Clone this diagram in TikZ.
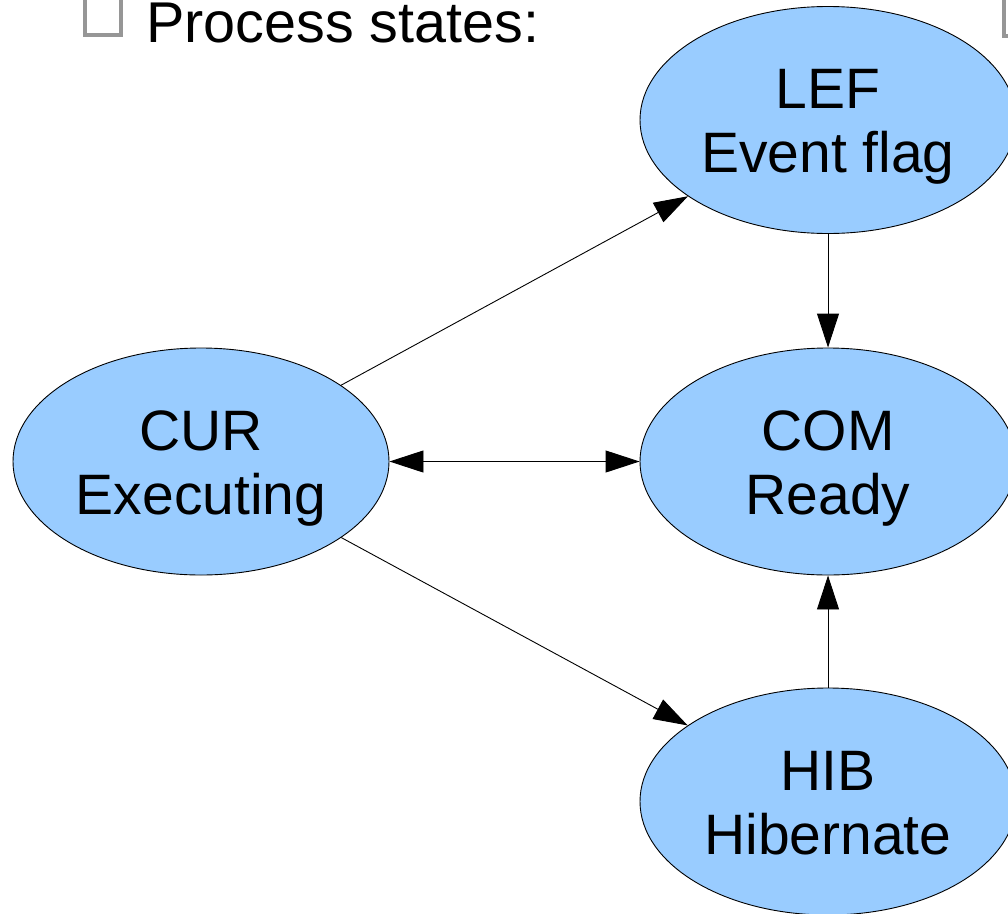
\documentclass[tikz,border=0pt]{standalone}
\usepackage{fontspec}
\setmainfont{Liberation Sans}
\usetikzlibrary{shapes.geometric,arrows.meta}
\definecolor{statefill}{HTML}{99CCFF}
\definecolor{boxgray}{RGB}{150,150,150}
\tikzset{
  state/.style={ellipse, draw=black, line width=0.9pt, fill=statefill,
    minimum width=376pt, minimum height=227pt, inner sep=0pt,
    align=center, text height=120pt, text depth=15pt,
    font=\fontsize{57pt}{64pt}\selectfont},
  conn/.style={line width=0.9pt, -{Triangle[length=34pt,width=22pt]}},
  bconn/.style={line width=0.9pt, {Triangle[length=34pt,width=22pt]}-{Triangle[length=34pt,width=22pt]}},
  checkbox/.style={draw=boxgray, line width=4pt},
  title/.style={font=\fontsize{57.5pt}{68pt}\selectfont, inner sep=0pt, anchor=base west}
}
\begin{document}
\begin{tikzpicture}[x=1pt,y=-1pt]
\clip (0,0) rectangle (1008,913);
\fill[white] (0,0) rectangle (1008,913);
\draw[checkbox] (85,-2) rectangle (121,35);
\draw[checkbox] (1004,-2) rectangle (1044,36);
\node[title] (ttl) at (146,42) {Process states:};
\node[state] (lef) at (828,120) {LEF\\Event flag};
\node[state] (com) at (828,461.5) {COM\\Ready};
\node[state] (cur) at (201,461.5) {CUR\\Executing};
\node[state] (hib) at (828,801.5) {HIB\\Hibernate};
\draw[conn] (cur) -- (lef);
\draw[conn] (cur) -- (hib);
\draw[bconn] (cur) -- (com);
\draw[conn] (lef) -- (com);
\draw[conn] (hib) -- (com);
\end{tikzpicture}
\end{document}
